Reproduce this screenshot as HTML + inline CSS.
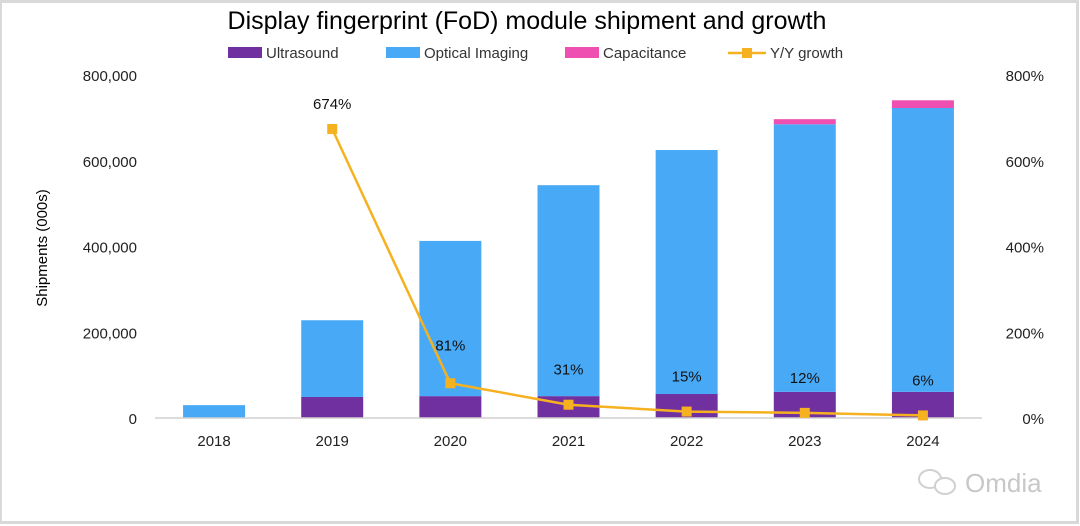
<!DOCTYPE html>
<html><head><meta charset="utf-8"><style>
html,body{margin:0;padding:0;background:#fff}
#wrap{position:relative;width:1080px;height:526px;background:#fff;overflow:hidden}
svg{position:absolute;left:0;top:0}
text{font-family:"Liberation Sans",sans-serif}
</style></head><body>
<div id="wrap">
<svg id="c" width="1080" height="526" viewBox="0 0 1080 526"></svg>
</div>
<script>
const years=["2018","2019","2020","2021","2022","2023","2024"];
const ultrasound=[0,49000,51000,51000,56000,61000,61000];
const optical=[30000,179000,362000,492000,569000,624000,662000];
const capacitance=[0,0,0,0,0,12000,18000];
const growth=[null,674,81,31,15,12,6];
const leftTicks=[0,200000,400000,600000,800000];
const rightTicks=[0,200,400,600,800];

const svg=document.getElementById('c');
const NS='http://www.w3.org/2000/svg';
function mk(t,a,txt){const e=document.createElementNS(NS,t);for(const k in a)e.setAttribute(k,a[k]);if(txt!=null)e.textContent=txt;svg.appendChild(e);return e;}
const y0=418,yTop=75,x0=155,x1=982;
const yL=v=>y0-v/800000*(y0-yTop);
const yR=v=>y0-v/800*(y0-yTop);
const xC=i=>x0+(x1-x0)/years.length*(i+0.5);
const bw=62;

let bd=mk('rect',{x:0.5,y:1.5,width:1077,height:521,fill:'none',stroke:'#d9d9d9','stroke-width':3});


let t=mk('text',{x:527,y:29,'font-size':25,'text-anchor':'middle',fill:'#000'},'Display fingerprint (FoD) module shipment and growth');


const leg=[["Ultrasound","#7030a0",228],["Optical Imaging","#48aaf7",386],["Capacitance","#ee4fb0",565]];
leg.forEach(l=>{
 let r=mk('rect',{x:l[2],y:47,width:34,height:11,fill:l[1]});
 
 let tx=mk('text',{x:l[2]+38,y:58,'font-size':15,fill:'#333'},l[0]);
 
});
let ll=mk('line',{x1:728,y1:53,x2:766,y2:53,stroke:'#f5b120','stroke-width':2.5});

let lm=mk('rect',{x:742,y:48,width:10,height:10,fill:'#f5b120'});

let lt=mk('text',{x:770,y:58,'font-size':15,fill:'#333'},'Y/Y growth');


leftTicks.forEach(v=>{
 let e=mk('text',{x:137,y:yL(v)+6,'font-size':15,'text-anchor':'end',fill:'#222'},v.toLocaleString('en-US'));
 
});
rightTicks.forEach(v=>{
 let e=mk('text',{x:1044,y:yR(v)+6,'font-size':15,'text-anchor':'end',fill:'#222'},v+'%');
 
});
let yt=mk('text',{x:47,y:248,'font-size':15,'text-anchor':'middle',fill:'#000',transform:'rotate(-90 47 248)'},'Shipments (000s)');


years.forEach((yr,i)=>{
 const cx=xC(i);let base=0;
 [[ultrasound,'#7030a0','ultrasound'],[optical,'#48aaf7','optical'],[capacitance,'#ee4fb0','capacitance']].forEach(s=>{
  const v=s[0][i];if(v>0){
   let r=mk('rect',{x:cx-bw/2,y:yL(base+v),width:bw,height:yL(base)-yL(base+v),fill:s[1]});
   
  }
  base+=v;
 });
 let xl=mk('text',{x:cx,y:446,'font-size':15,'text-anchor':'middle',fill:'#222'},yr);
 
});
let ax=mk('line',{x1:x0,y1:y0,x2:x1,y2:y0,stroke:'#d0d0d0','stroke-width':1.5});


let pts=[];growth.forEach((g,i)=>{if(g!=null)pts.push(xC(i)+','+yR(g));});
let pl=mk('polyline',{points:pts.join(' '),fill:'none',stroke:'#f5b120','stroke-width':2.5});

growth.forEach((g,i)=>{if(g==null)return;
 let m=mk('rect',{x:xC(i)-5,y:yR(g)-5,width:10,height:10,fill:'#f5b120'});
 
 const ly=i==1?yR(g)-20:(i==2?yR(g)-33:yR(g)-30);
 let lb=mk('text',{x:xC(i),y:ly,'font-size':15,'text-anchor':'middle',fill:'#111'},g+'%');
 
});

let wm=mk('text',{x:965,y:492,'font-size':26,fill:'#c8c8c8'},'Omdia');

let c1=mk('ellipse',{cx:930,cy:479,rx:11,ry:9,fill:'none',stroke:'#d0d0d0','stroke-width':2});

let c2=mk('ellipse',{cx:945,cy:486,rx:10,ry:8,fill:'#fff',stroke:'#d0d0d0','stroke-width':2});

</script>
</body></html>
